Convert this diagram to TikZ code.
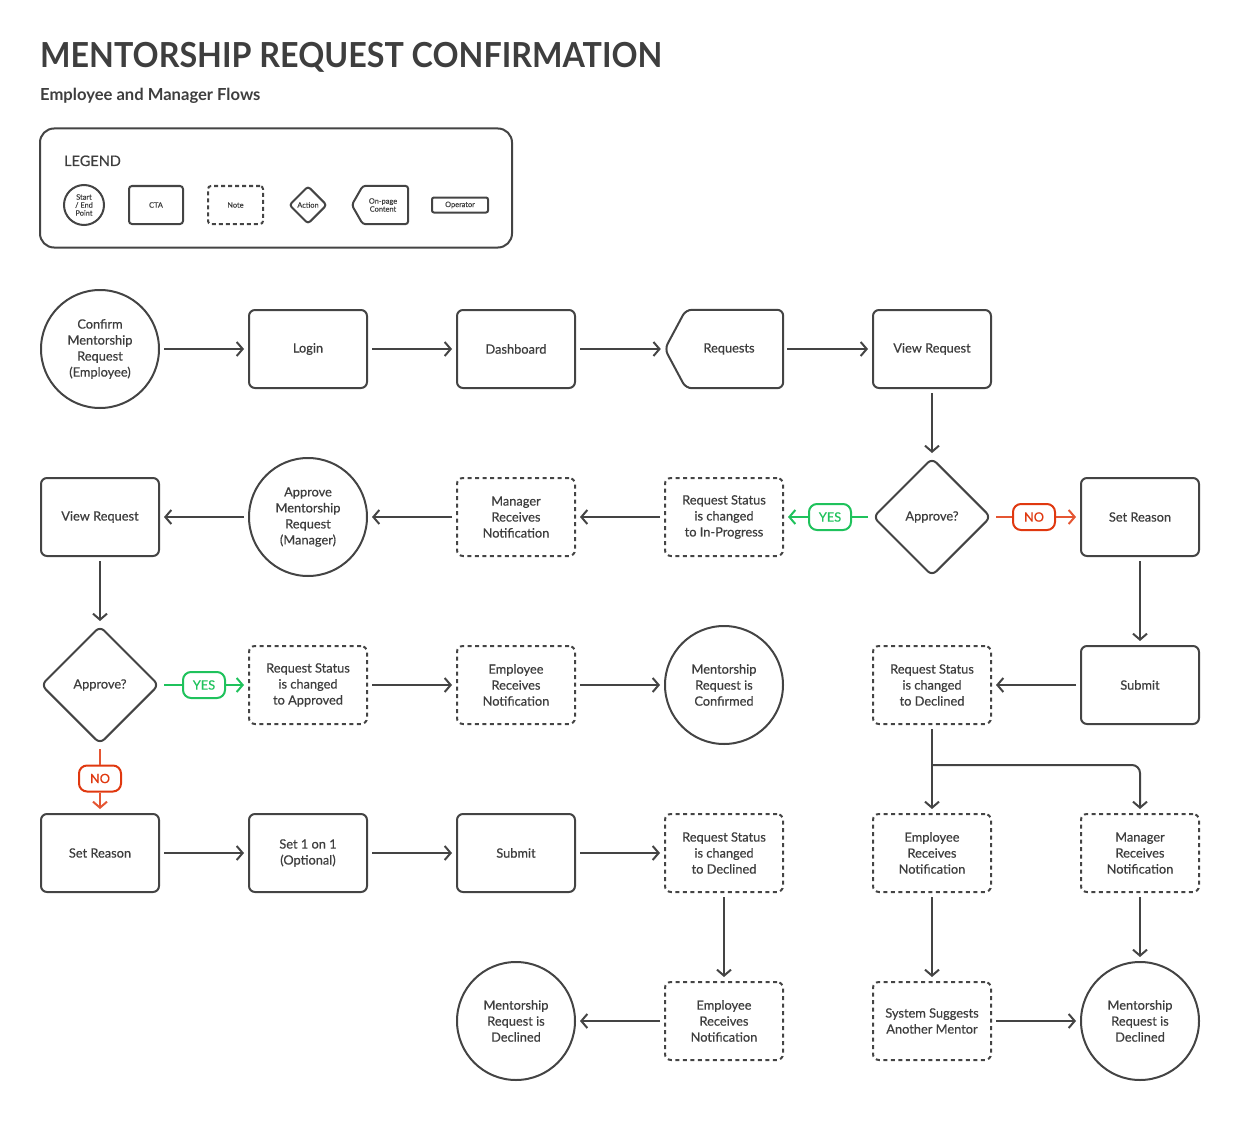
\documentclass[tikz,border=0pt]{standalone}
\usepackage{fontspec}
\setmainfont{Lato}
\newfontfamily\medfont[FakeBold=0.5]{Lato}
\usetikzlibrary{shapes.geometric,arrows.meta}
\definecolor{cline}{HTML}{444444}
\definecolor{ctext}{HTML}{3E3E3E}
\definecolor{cgreen}{HTML}{1FC25C}
\definecolor{cred}{HTML}{E0380F}
\newcommand\nfont{\medfont\fontsize{12.8}{16}\selectfont}
\newcommand\lfont{\medfont\fontsize{12.8}{14}\selectfont}
\newcommand\gfont{\medfont\fontsize{7.4}{8}\selectfont}
\begin{document}
\begin{tikzpicture}[x=1pt,y=-1pt,
  base/.style={draw=cline, line width=2pt, text=ctext, font=\nfont, align=center, inner sep=2pt},
  cta/.style={base, rectangle, rounded corners=6pt, minimum width=118pt, minimum height=78pt},
  note/.style={cta, dash pattern=on 4pt off 3.5pt},
  term/.style={base, circle, minimum size=118pt, inner sep=0pt},
  act/.style={base, diamond, aspect=1, minimum width=118pt, minimum height=118pt, inner sep=0pt, rounded corners=6pt},
  pgbox/.style={minimum width=118pt, minimum height=78pt, inner sep=0pt},
  txt/.style={text=ctext, font=\nfont, align=center, inner sep=0pt},
  lbl/.style={draw, line width=2pt, rounded corners=8pt, minimum width=42pt, minimum height=26pt, inner sep=0pt, font=\lfont},
  yeslbl/.style={lbl, draw=cgreen, text=cgreen, fill=white},
  nolbl/.style={lbl, draw=cred, text=cred, fill=white},
  ln/.style={draw=cline, line width=2pt},
  arr/.style={-{Straight Barb[length=6pt,width=14pt]}},
  flow/.style={ln, arr, shorten >=4pt, shorten <=4pt},
  gln/.style={draw=cgreen, line width=2pt},
  rln/.style={draw=cred!85!white, line width=2pt},
  leg/.style={base, font=\gfont, inner sep=0pt},
]
\useasboundingbox (0,0) rectangle (1240,1129);

% Title
\node[anchor=base west, inner sep=0pt, text=ctext, font=\fontsize{34.5}{40}\selectfont\bfseries] (title) at (40,68) {\scalebox{0.935}[1]{MENTORSHIP REQUEST CONFIRMATION}};
\node[anchor=base west, inner sep=0pt, text=ctext, font=\fontsize{16.6}{18}\selectfont\bfseries] (subtitle) at (40,101) {Employee and Manager Flows};

% Legend
\node[draw=cline, line width=2pt, rounded corners=14pt, minimum width=472pt, minimum height=119pt, inner sep=0pt] (legend) at (276,188) {};
\node[anchor=base west, inner sep=0pt, text=ctext, font=\medfont\fontsize{14.5}{16}\selectfont] (legtitle) at (64,166) {LEGEND};
\node[leg, circle, minimum size=40pt] (lstart) at (84,205) {Start\\/ End\\Point};
\node[leg, rectangle, rounded corners=3pt, minimum width=54pt, minimum height=38pt] (lcta) at (156,205) {CTA};
\node[leg, rectangle, rounded corners=3pt, minimum width=55pt, minimum height=38pt, dash pattern=on 4pt off 3pt] (lnote) at (235.5,205) {Note};
\node[leg, diamond, aspect=1, minimum width=38pt, minimum height=38pt, rounded corners=3pt] (lact) at (308,205) {Action};
\node[minimum width=56pt, minimum height=38pt, inner sep=0pt] (lops) at (380,205) {};
\draw[ln, rounded corners=3pt] ([xshift=11pt]lops.north west) -- (lops.north east) -- (lops.south east) -- ([xshift=11pt]lops.south west) -- (lops.west) -- cycle;
\node[txt, font=\gfont] (lopt) at (383,205) {On-page\\Content};
\node[leg, rectangle, rounded corners=2pt, minimum width=56pt, minimum height=15pt] (loper) at (460,205) {Operator};

% Row 1
\node[term] (c1) at (100,349) {Confirm\\Mentorship\\Request\\(Employee)};
\node[cta] (login) at (308,349) {Login};
\node[cta] (dash) at (516,349) {Dashboard};
\node[pgbox] (req) at (724,349) {};
\draw[ln, rounded corners=6pt] ([xshift=21pt]req.north west) -- (req.north east) -- (req.south east) -- ([xshift=21pt]req.south west) -- (req.west) -- cycle;
\node[txt] (reqt) at (729,349) {Requests};
\node[cta] (vr1) at (932,349) {View Request};

% Row 2
\node[act] (d1) at (932,517) {Approve?};
\node[cta] (sr1) at (1140,517) {Set Reason};
\node[note] (s1) at (724,517) {Request Status\\is changed\\to In-Progress};
\node[note] (mrn1) at (516,517) {Manager\\Receives\\Notification};
\node[term] (c2) at (308,517) {Approve\\Mentorship\\Request\\(Manager)};
\node[cta] (vr2) at (100,517) {View Request};

% Row 3
\node[act] (d2) at (100,685) {Approve?};
\node[note] (s2) at (308,685) {Request Status\\is changed\\to Approved};
\node[note] (ern1) at (516,685) {Employee\\Receives\\Notification};
\node[term] (c3) at (724,685) {Mentorship\\Request is\\Confirmed};
\node[note] (s3) at (932,685) {Request Status\\is changed\\to Declined};
\node[cta] (sub1) at (1140,685) {Submit};

% Row 4
\node[cta] (sr2) at (100,853) {Set Reason};
\node[cta] (set11) at (308,853) {Set 1 on 1\\(Optional)};
\node[cta] (sub2) at (516,853) {Submit};
\node[note] (s4) at (724,853) {Request Status\\is changed\\to Declined};
\node[note] (ern2) at (932,853) {Employee\\Receives\\Notification};
\node[note] (mrn2) at (1140,853) {Manager\\Receives\\Notification};

% Row 5
\node[term] (c4) at (516,1021) {Mentorship\\Request is\\Declined};
\node[note] (ern3) at (724,1021) {Employee\\Receives\\Notification};
\node[note] (sys) at (932,1021) {System Suggests\\Another Mentor};
\node[term] (c5) at (1140,1021) {Mentorship\\Request is\\Declined};

% Labels
\node[yeslbl] (yes1) at (830,517) {YES};
\node[nolbl] (no1) at (1034,517) {NO};
\node[yeslbl] (yes2) at (204,685) {YES};
\node[nolbl] (no2) at (100,778.5) {NO};

% Connectors
\draw[flow] (c1) -- (login);
\draw[flow] (login) -- (dash);
\draw[flow] (dash) -- (req.west);
\draw[flow] (req) -- (vr1);
\draw[flow] (vr1) -- (d1);

\draw[gln, shorten <=4pt] (d1.west) -- (yes1.east);
\draw[gln, arr, shorten >=4pt] (yes1.west) -- (s1.east);
\draw[rln, shorten <=4pt] (d1.east) -- (no1.west);
\draw[rln, arr, shorten >=4pt] (no1.east) -- (sr1.west);

\draw[flow] (s1) -- (mrn1);
\draw[flow] (mrn1) -- (c2);
\draw[flow] (c2) -- (vr2);
\draw[flow] (vr2) -- (d2);

\draw[gln, shorten <=4pt] (d2.east) -- (yes2.west);
\draw[gln, arr, shorten >=4pt] (yes2.east) -- (s2.west);
\draw[flow] (s2) -- (ern1);
\draw[flow] (ern1) -- (c3);

\draw[rln, shorten <=4pt] (d2.south) -- (no2.north);
\draw[rln, arr, shorten >=4pt] (no2.south) -- (sr2.north);
\draw[flow] (sr2) -- (set11);
\draw[flow] (set11) -- (sub2);
\draw[flow] (sub2) -- (s4);
\draw[flow] (s4) -- (ern3);
\draw[flow] (ern3) -- (c4);

\draw[flow] (sr1) -- (sub1);
\draw[flow] (sub1) -- (s3);
\draw[flow] (s3) -- (ern2);
\coordinate (fork) at (932,765);
\draw[ln, arr, rounded corners=8pt, shorten >=4pt] (fork) -| (mrn2.north);
\draw[flow] (ern2) -- (sys);
\draw[flow] (sys) -- (c5);
\draw[flow] (mrn2) -- (c5);
\end{tikzpicture}
\end{document}
